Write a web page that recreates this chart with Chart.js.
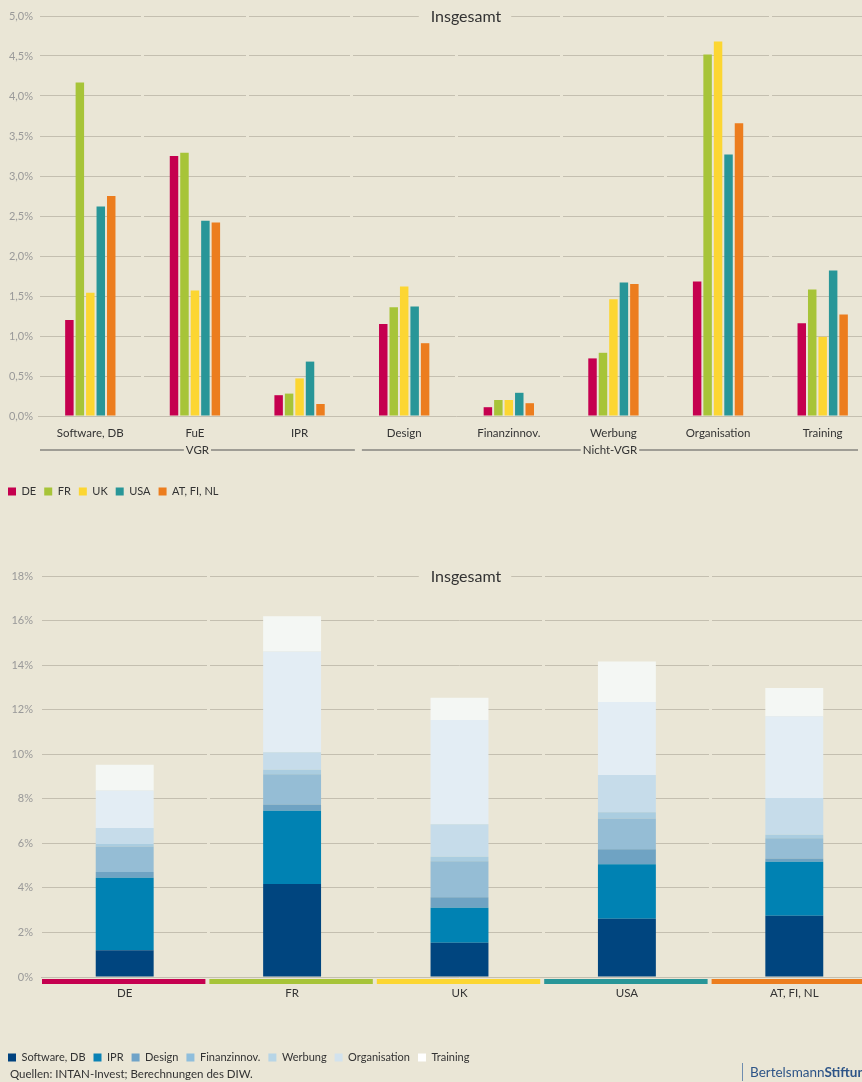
<!DOCTYPE html>
<html lang="de">
<head>
<meta charset="utf-8">
<script src="https://cdn.jsdelivr.net/npm/chart.js@4.4.1/dist/chart.umd.min.js"></script>
<style>
    body { margin: 0; width: 862px; height: 1082px; overflow: hidden; position: relative; background: #eae6d6; font-family: Lato, sans-serif; }
    .box { position: absolute; left: 0; width: 880px; }
    .src { position: absolute; left: 10px; top: 1067px; font-size: 11.5px; color: #333; }
    .brand { position: absolute; left: 742px; top: 1063px; font-size: 13.5px; color: #2d5487; white-space: nowrap; border-left: 1px solid #6f8db0; padding-left: 7px; line-height: 18px; }
</style>
</head>
<body>
<div class="box" style="top:0;height:507px"><canvas id="chartTop"></canvas></div>
<div class="box" style="top:560px;height:513px"><canvas id="chartBottom"></canvas></div>
<div class="src">Quellen: INTAN-Invest; Berechnungen des DIW.</div>
<div class="brand">Bertelsmann<b>Stiftung</b></div>
<script>
// Kategorien und Länder
const categories = ['Software, DB', 'FuE', 'IPR', 'Design', 'Finanzinnov.', 'Werbung', 'Organisation', 'Training'];
const countries = ['DE', 'FR', 'UK', 'USA', 'AT, FI, NL'];

// Anteil am BIP in % je Land (Reihenfolge wie categories)
const valuesDE = [1.20, 3.25, 0.26, 1.15, 0.11, 0.72, 1.68, 1.16];
const valuesFR = [4.17, 3.29, 0.28, 1.36, 0.20, 0.79, 4.52, 1.58];
const valuesUK = [1.54, 1.57, 0.47, 1.62, 0.20, 1.46, 4.68, 0.99];
const valuesUSA = [2.62, 2.44, 0.68, 1.37, 0.29, 1.67, 3.27, 1.82];
const valuesATFINL = [2.75, 2.42, 0.15, 0.91, 0.16, 1.65, 3.66, 1.27];

// Gruppen unter der x-Achse
const groupLabels = ['VGR', 'Nicht-VGR'];
const groupFrom = [0, 3];
const groupTo = [2, 7];

// Achsenticks
const topTicks = [0, 0.5, 1, 1.5, 2, 2.5, 3, 3.5, 4, 4.5, 5];
const bottomTicks = [0, 2, 4, 6, 8, 10, 12, 14, 16, 18];

// Legende unten (wie im Original)
const bottomLegendLabels = ['Software, DB', 'IPR', 'Design', 'Finanzinnov.', 'Werbung', 'Organisation', 'Training'];
const bottomLegendColors = ['#00427f', '#0a82b5', '#6fa3c8', '#8fbedc', '#b7d5e6', '#d2e2ed', '#ffffff'];

const countryColors = ['#c5004f', '#a7c438', '#fcd632', '#289698', '#ec7d1e'];
const componentColors = ['#00457f', '#0082b3', '#6fa3c3', '#95bdd5', '#aacde0', '#c6dcea', '#e3edf4', '#f4f7f4'];
const bg = '#eae6d6';
const gridColor = '#c4bfb0';

const seriesByCountry = [valuesDE, valuesFR, valuesUK, valuesUSA, valuesATFINL];

Chart.defaults.font.family = 'Lato';
Chart.defaults.animation = false;

// Titel mitten auf der obersten Gitterlinie
const boxTitle = {
    id: 'boxTitle',
    afterDraw(chart, args, opts) {
        const ctx = chart.ctx;
        ctx.save();
        ctx.font = '16px Lato';
        const w = ctx.measureText(opts.text).width;
        const y = chart.chartArea.top;
        ctx.fillStyle = bg;
        ctx.fillRect(opts.x - w / 2 - 12, y - 4, w + 22, 8);
        ctx.fillStyle = '#333';
        ctx.textAlign = 'center';
        ctx.textBaseline = 'middle';
        ctx.fillText(opts.text, opts.x, y + 1);
        ctx.restore();
    }
};

// VGR / Nicht-VGR Linien
const groupLines = {
    id: 'groupLines',
    afterDraw(chart) {
        const ctx = chart.ctx;
        const x = chart.scales.x;
        const w = x.width / categories.length;
        const y = x.top + 34;
        ctx.save();
        ctx.font = '11.5px Lato';
        ctx.textAlign = 'center';
        ctx.textBaseline = 'middle';
        ctx.strokeStyle = '#555';
        ctx.lineWidth = 1;
        for (let i = 0; i < groupLabels.length; i++) {
            const x1 = x.left + groupFrom[i] * w + (i == 0 ? 2 : 10);
            const x2 = Math.min(x.left + (groupTo[i] + 1) * w + 3, 858);
            const mid = (x1 + x2) / 2;
            const tw = ctx.measureText(groupLabels[i]).width;
            ctx.beginPath();
            ctx.moveTo(x1, y); ctx.lineTo(mid - tw / 2 - 2, y);
            ctx.moveTo(mid + tw / 2 + 2, y); ctx.lineTo(x2, y);
            ctx.stroke();
            ctx.fillStyle = '#333';
            ctx.fillText(groupLabels[i], mid, y);
        }
        ctx.restore();
    }
};

// farbige Länderbalken unter der x-Achse
const countryStrip = {
    id: 'countryStrip',
    afterDraw(chart) {
        const ctx = chart.ctx;
        const x = chart.scales.x;
        const w = x.width / countries.length;
        ctx.save();
        for (let i = 0; i < countries.length; i++) {
            ctx.fillStyle = countryColors[i];
            ctx.fillRect(x.left + i * w + 1, x.top + 2, w - 4, 5);
        }
        ctx.restore();
    }
};

function pctComma(v) {
    return v.toFixed(1).replace('.', ',') + '%';
}

// oberes Diagramm
new Chart(document.getElementById('chartTop'), {
    type: 'bar',
    data: {
        labels: categories,
        datasets: countries.map((c, i) => ({
            label: c,
            data: seriesByCountry[i],
            backgroundColor: countryColors[i],
            barPercentage: 0.81,
            categoryPercentage: 0.5
        }))
    },
    options: {
        responsive: true,
        maintainAspectRatio: false,
        layout: { padding: { top: 16, right: 5, left: 0, bottom: 0 } },
        plugins: {
            tooltip: { enabled: false },
            legend: {
                position: 'bottom',
                align: 'start',
                labels: { boxWidth: 8, boxHeight: 8, padding: 8, color: '#333', font: { size: 11 } }
            },
            boxTitle: { text: 'Insgesamt', x: 466 }
        },
        scales: {
            x: {
                border: { display: false },
                grid: { color: bg, lineWidth: 3, drawTicks: false, z: 0 },
                ticks: { color: '#333', padding: 10, font: { size: 11.5 } },
                afterFit(s) { s.height = 62; }
            },
            y: {
                min: 0,
                max: 5,
                border: { display: false },
                grid: { color: gridColor, lineWidth: 1, drawTicks: false, z: -1 },
                afterBuildTicks(s) { s.ticks = topTicks.map(v => ({ value: v })); },
                ticks: { color: '#999', padding: 5, font: { size: 11 }, callback: v => pctComma(v) },
                afterFit(s) { s.width = 38; }
            }
        }
    },
    plugins: [boxTitle, groupLines]
});

// unteres Diagramm (gestapelt)
new Chart(document.getElementById('chartBottom'), {
    type: 'bar',
    data: {
        labels: countries,
        datasets: categories.map((k, j) => ({
            label: k,
            data: seriesByCountry.map(s => s[j]),
            backgroundColor: componentColors[j],
            barPercentage: 0.346,
            categoryPercentage: 1
        }))
    },
    options: {
        responsive: true,
        maintainAspectRatio: false,
        layout: { padding: { top: 16, right: 2, left: 0, bottom: 0 } },
        plugins: {
            tooltip: { enabled: false },
            legend: {
                position: 'bottom',
                align: 'start',
                labels: {
                    boxWidth: 8, boxHeight: 8, padding: 8, color: '#333', font: { size: 11 },
                    generateLabels: () => bottomLegendLabels.map((t, i) => ({
                        text: t, fillStyle: bottomLegendColors[i], strokeStyle: bottomLegendColors[i], lineWidth: 0, hidden: false, fontColor: '#333'
                    }))
                }
            },
            boxTitle: { text: 'Insgesamt', x: 466 }
        },
        scales: {
            x: {
                stacked: true,
                border: { display: false },
                grid: { color: bg, lineWidth: 3, drawTicks: false, z: 0 },
                ticks: { color: '#333', padding: 9, font: { size: 11.5 } },
                afterFit(s) { s.height = 67; }
            },
            y: {
                stacked: true,
                min: 0,
                max: 18,
                border: { display: false },
                grid: { color: gridColor, lineWidth: 1, drawTicks: false, z: -1 },
                afterBuildTicks(s) { s.ticks = bottomTicks.map(v => ({ value: v })); },
                ticks: { color: '#999', padding: 8, font: { size: 11 }, callback: v => v + '%' },
                afterFit(s) { s.width = 41; }
            }
        }
    },
    plugins: [boxTitle, countryStrip]
});
</script>
</body>
</html>
